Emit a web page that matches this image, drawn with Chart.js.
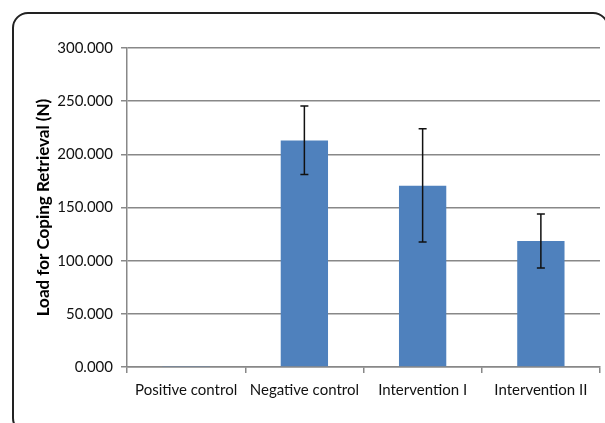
<!DOCTYPE html>
<html>
<head>
<meta charset="utf-8">
<script src="https://cdn.jsdelivr.net/npm/chart.js@4"></script>
<style>
  html, body { margin: 0; padding: 0; background: #fff; overflow: hidden; }
  #wrap { position: relative; width: 605px; height: 423px; overflow: hidden; }
  #frame {
    position: absolute; left: 12px; top: 12px; width: 597px; height: 422px;
    border: 2px solid #222; border-radius: 16px; box-sizing: border-box;
  }
  canvas { position: absolute; left: 0; top: 0; }
</style>
</head>
<body>
<div id="wrap">
  <div id="frame"></div>
  <canvas id="chart" width="605" height="423"></canvas>
</div>
<script>
const categories = ['Positive control', 'Negative control', 'Intervention I', 'Intervention II'];
const loadMeans = [0.4, 213, 170.5, 118.5];
const errLow = [0.2, 181, 117.5, 93];
const errHigh = [0.6, 245.5, 224, 144];
const yTicks = [0, 50, 100, 150, 200, 250, 300];

// error bars drawn on top of the bars
const errorBars = {
    id: 'errorBars',
    afterDatasetsDraw(chart) {
        const ctx = chart.ctx;
        const x = chart.scales.x;
        const y = chart.scales.y;
        ctx.save();
        ctx.strokeStyle = '#111';
        ctx.lineWidth = 1.5;
        for (let i = 1; i < categories.length; i++) {
            const cx = x.getPixelForValue(i);
            const top = y.getPixelForValue(errHigh[i]);
            const bot = y.getPixelForValue(errLow[i]);
            ctx.beginPath();
            ctx.moveTo(cx, top); ctx.lineTo(cx, bot);
            ctx.moveTo(cx - 4, top); ctx.lineTo(cx + 4, top);
            ctx.moveTo(cx - 4, bot); ctx.lineTo(cx + 4, bot);
            ctx.stroke();
        }
        ctx.restore();
    }
};

const ctx = document.getElementById('chart').getContext('2d');
new Chart(ctx, {
    type: 'bar',
    data: {
        labels: categories,
        datasets: [{
            data: loadMeans,
            backgroundColor: '#4f81bd',
            borderWidth: 0,
            categoryPercentage: 1,
            barPercentage: 0.4
        }]
    },
    options: {
        responsive: false,
        animation: false,
        layout: { padding: { left: 33, top: 48, right: 5, bottom: 25 } },
        plugins: {
            legend: { display: false },
            tooltip: { enabled: false }
        },
        scales: {
            x: {
                offset: true,
                grid: {
                    offset: true,
                    drawOnChartArea: false,
                    drawTicks: true,
                    tickLength: 6,
                    color: '#888',
                    lineWidth: 1.5
                },
                border: { color: '#888', width: 1.5 },
                ticks: {
                    color: '#111',
                    padding: 8,
                    maxRotation: 0,
                    minRotation: 0,
                    autoSkip: false,
                    font: { family: 'Lato', size: 15 }
                },
                afterFit: (s) => { s.height = 423 - 367 - 25; }
            },
            y: {
                min: 0,
                max: 300,
                afterBuildTicks: (s) => { s.ticks = yTicks.map(v => ({ value: v })); },
                grid: {
                    color: '#888',
                    lineWidth: 1.5,
                    tickLength: 6
                },
                border: { color: '#888', width: 1.5 },
                ticks: {
                    color: '#111',
                    padding: 8,
                    font: { family: 'Lato', size: 15 },
                    callback: (v) => v.toFixed(3)
                },
                title: {
                    display: true,
                    text: 'Load for Coping Retrieval (N)',
                    color: '#000',
                    font: { family: 'Lato', size: 17, weight: 'bold' },
                    padding: { top: 0, bottom: 0 }
                },
                afterFit: (s) => { s.width = 127 - 33; }
            }
        }
    },
    plugins: [errorBars]
});
</script>
</body>
</html>
